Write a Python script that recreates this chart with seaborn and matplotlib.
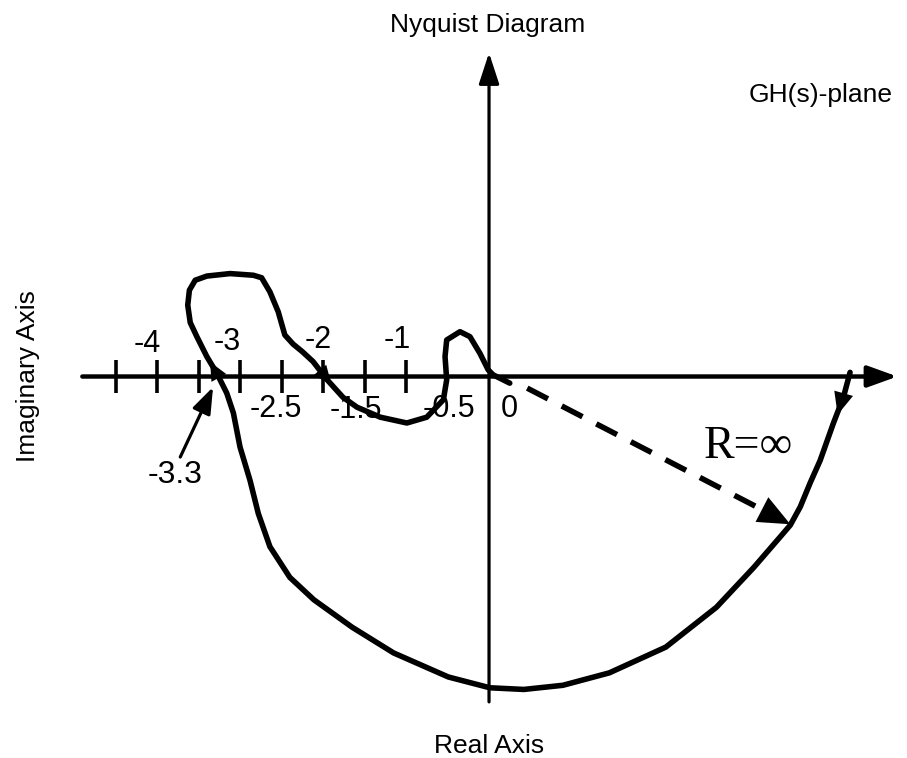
import numpy as np
import seaborn as sns
import matplotlib
matplotlib.use("Agg")
import matplotlib.pyplot as plt

# Nyquist contour, traced in real-axis units (start on +real axis at R=inf)
curve_re = [4.35, 4.27, 4.15, 3.99, 3.87, 3.75, 3.63, 3.51, 3.19, 2.74, 2.13, 1.45, 0.89, 0.42,
            0.01, -0.49, -1.15, -1.65, -2.11, -2.40, -2.64, -2.78, -2.88, -3.00, -3.08, -3.16,
            -3.28, -3.40, -3.52, -3.60, -3.63, -3.61, -3.54, -3.40, -3.12, -2.84, -2.74, -2.64,
            -2.54, -2.46, -2.36, -2.25, -2.12, -1.95, -1.76, -1.59, -1.31, -0.99, -0.75, -0.55,
            -0.51, -0.53, -0.51, -0.35, -0.23, -0.11, -0.01, 0.05, 0.25]
curve_im = [0.05, -0.25, -0.56, -1.01, -1.28, -1.57, -1.79, -1.93, -2.30, -2.78, -3.26, -3.57,
            -3.72, -3.77, -3.75, -3.62, -3.33, -3.02, -2.69, -2.42, -2.05, -1.65, -1.25, -0.85,
            -0.44, -0.20, 0.04, 0.24, 0.48, 0.65, 0.86, 1.04, 1.16, 1.21, 1.24, 1.22, 1.19, 1.02,
            0.78, 0.50, 0.39, 0.30, 0.18, -0.04, -0.25, -0.37, -0.49, -0.56, -0.49, -0.28,
            -0.04, 0.24, 0.44, 0.54, 0.48, 0.28, 0.08, 0.02, -0.08]

tick_pos = [-4.5, -4.0, -3.5, -3.0, -2.5, -2.0, -1.5, -1.0]

# tick labels as hand-placed in the drawing: (text, x, baseline y)
upper_labels = ["-4", "-3", "-2", "-1"]
upper_x = [-4.12, -3.15, -2.06, -1.11]
upper_y = [0.30, 0.32, 0.34, 0.34]
lower_labels = ["-2.5", "-1.5", "-0.5", "0"]
lower_x = [-2.57, -1.61, -0.48, 0.24]
lower_y = [-0.49, -0.50, -0.49, -0.49]

radius_start = (0.46, -0.14)
radius_tip = (3.63, -1.78)

sns.set_style("white")
plt.rcParams["font.family"] = ["Liberation Sans", "DejaVu Sans"]
plt.rcParams["text.color"] = "black"

fig = plt.figure(figsize=(9.07, 7.58), dpi=100)
ax = fig.add_axes([0, 0, 1, 1])
ax.set_xlim(-5.892, 5.036)
ax.set_ylim(-4.596, 4.536)
ax.axis("off")


def head(tip, tail, length, width, lw=0.0):
    ax.annotate("", xy=tip, xytext=tail,
                arrowprops=dict(arrowstyle=f"-|>,head_length={length},head_width={width}",
                                color="black", lw=lw, shrinkA=0, shrinkB=0,
                                mutation_scale=1))


# axes with arrows
head((4.92, 0.0), (-4.90, 0.0), 18, 6.5, lw=3.2)
head((0.0, 3.90), (0.0, -3.92), 19, 6.2, lw=2.3)
ax.vlines(tick_pos, -0.2, 0.2, color="black", lw=2.6)

# the contour
sns.lineplot(x=curve_re, y=curve_im, sort=False, estimator=None, color="black", lw=4,
             ax=ax, solid_joinstyle="round", solid_capstyle="round")

# direction arrows on the contour
head((4.20, -0.46), (4.33, 0.0), 16, 7)
head((-1.90, -0.09), (-2.12, 0.175), 13, 6)
head((-3.36, 0.175), (-3.157, -0.199), 13, 6)

# R = infinity radius
d = np.subtract(radius_tip, radius_start)
d = d / np.hypot(*d)
base = np.subtract(radius_tip, d * 0.32)
sns.lineplot(x=[radius_start[0], base[0]], y=[radius_start[1], base[1]], sort=False,
             estimator=None, color="black", lw=4, ax=ax, linestyle=(0, (4.2, 2.8)))
head(radius_tip, tuple(base), 23, 10)

# -3.3 pointer
head((-3.325, -0.127), (-3.72, -0.97), 16, 5.8, lw=2.3)

for t, x, y in zip(upper_labels, upper_x, upper_y):
    ax.text(x, y, t, ha="center", va="baseline", fontsize=22, color="black")
for t, x, y in zip(lower_labels, lower_x, lower_y):
    ax.text(x, y, t, ha="center", va="baseline", fontsize=22, color="black")
ax.text(-3.78, -1.28, "-3.3", ha="center", va="baseline", fontsize=23, color="black")

ax.text(3.13, -0.98, "R=\u221e", ha="center", va="baseline", fontsize=33, color="black",
        family=["Liberation Serif", "DejaVu Serif"])

ax.text(-0.02, 4.15, "Nyquist Diagram", ha="center", va="baseline", fontsize=19, color="black")
ax.text(4.0, 3.31, "GH(s)-plane", ha="center", va="baseline", fontsize=19, color="black")
ax.text(0.0, -4.53, "Real Axis", ha="center", va="baseline", fontsize=19, color="black")
ax.text(-5.55, 0.0, "Imaginary Axis", ha="center", va="center", rotation=90, fontsize=19,
        color="black")

fig.savefig("out.png", dpi=100)
